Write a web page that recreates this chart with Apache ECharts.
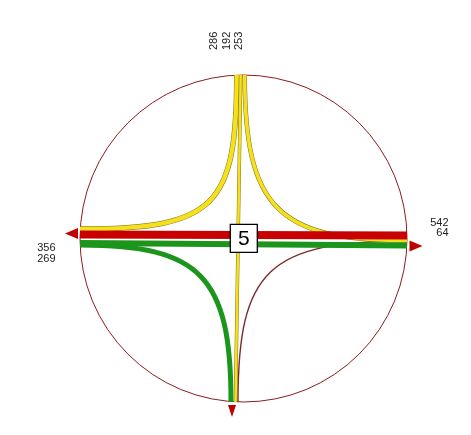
<!DOCTYPE html>
<html><head><meta charset="utf-8">
<script src="https://cdn.jsdelivr.net/npm/echarts@6/dist/echarts.min.js"></script>
<style>html,body{margin:0;padding:0;background:#fff}#c{width:471px;height:435px}</style>
</head><body><div id="c"></div>
<script>
// ---- data ----
const northVolumes = [286, 192, 253];
const westVolumes = [356, 269];
const eastVolumes = [542, 64];
const centerCount = [5];
const movements = ['S-E', 'N-E', 'N-W', 'N-S', 'W-S', 'W-E (green)', 'W-E (red)'];

// ---- geometry / styles (chart coordinate units) ----
const CX = 243.5, CY = 238.5, R = 163.5;
const flowGeom = {
  'S-E':         {from: [238, 402],   to: [407, 241],   k: 0.82, color: '#7b2a2a', width: 1.4},
  'N-E':         {from: [244.7, 75],  to: [407, 240.5], k: 0.80, color: '#f5e01e', width: 3.6, edge: '#7d6c18'},
  'N-W':         {from: [236.7, 75],  to: [80, 229],    k: 0.86, color: '#f5e01e', width: 4.4, edge: '#7d6c18'},
  'N-S':         {from: [240.7, 75],  to: [235.5, 402], k: 0,    color: '#f5e01e', width: 2.6, edge: '#7d6c18'},
  'W-S':         {from: [80, 245],    to: [231, 402],   k: 0.80, color: '#1c951c', width: 5},
  'W-E (green)': {from: [80, 243],    to: [407, 245.5], k: 0,    color: '#1c951c', width: 6},
  'W-E (red)':   {from: [80, 234.5],  to: [407, 235.5], k: 0,    color: '#c80000', width: 7.8}
};
const ARROW = '#c00000';
const FONT = '11px "Liberation Sans", Arial, sans-serif';

const chart = echarts.init(document.getElementById('c'), null, {renderer: 'canvas'});

function flowShape(api, g) {
  const p0 = api.coord(g.from), p3 = api.coord(g.to);
  if (!g.k) return {type: 'line', shape: {x1: p0[0], y1: p0[1], x2: p3[0], y2: p3[1]}};
  const vertFrom = Math.abs(g.from[1] - CY) > Math.abs(g.from[0] - CX);
  const corner = api.coord(vertFrom ? [g.from[0], g.to[1]] : [g.to[0], g.from[1]]);
  const c1 = [p0[0] + g.k * (corner[0] - p0[0]), p0[1] + g.k * (corner[1] - p0[1])];
  const c2 = [p3[0] + g.k * (corner[0] - p3[0]), p3[1] + g.k * (corner[1] - p3[1])];
  return {type: 'bezierCurve', shape: {x1: p0[0], y1: p0[1], x2: p3[0], y2: p3[1],
    cpx1: c1[0], cpy1: c1[1], cpx2: c2[0], cpy2: c2[1]}};
}

const option = {
  animation: false,
  grid: {left: 0, top: 0, width: 471, height: 435},
  xAxis: {type: 'value', min: 0, max: 471, show: false},
  yAxis: {type: 'value', min: 0, max: 435, inverse: true, show: false},
  series: [
    { // outer circle
      type: 'custom', silent: true, data: [[CX, CY]],
      renderItem: (p, api) => {
        const c = api.coord([CX, CY]), e = api.coord([CX + R, CY]);
        return {type: 'circle', shape: {cx: c[0], cy: c[1], r: e[0] - c[0]},
          style: {fill: 'none', stroke: '#8a1c1c', lineWidth: 1}};
      }
    },
    { // movements
      type: 'custom', silent: true, data: movements.map((m, i) => [i]),
      renderItem: (p, api) => {
        const g = flowGeom[movements[p.dataIndex]];
        const children = [];
        if (g.edge) {
          const s = flowShape(api, g);
          s.style = {fill: 'none', stroke: g.edge, lineWidth: g.width + 0.9};
          children.push(s);
        }
        const s2 = flowShape(api, g);
        s2.style = {fill: 'none', stroke: g.color, lineWidth: g.width, lineCap: 'butt'};
        children.push(s2);
        return {type: 'group', children};
      }
    },
    { // exit arrows
      type: 'custom', silent: true, data: [['W'], ['E'], ['S']],
      renderItem: (p, api) => {
        const tri = [
          [[65, 233.5], [78, 228], [78, 239]],
          [[422.5, 246], [409.5, 240.5], [409.5, 251.5]],
          [[232, 417], [228, 405], [236, 405]]
        ][p.dataIndex].map(pt => api.coord(pt));
        return {type: 'polygon', shape: {points: tri}, style: {fill: ARROW}};
      }
    },
    { // north labels (rotated)
      type: 'custom', silent: true, data: northVolumes.map((v, i) => [i, v]),
      renderItem: (p, api) => {
        const xs = [214, 226.5, 239];
        const pt = api.coord([xs[p.dataIndex], 50]);
        return {type: 'text', x: pt[0], y: pt[1], rotation: Math.PI / 2,
          style: {text: String(api.value(1)), fill: '#222', font: FONT,
            align: 'left', verticalAlign: 'middle'}};
      }
    },
    { // west labels
      type: 'custom', silent: true, data: westVolumes.map((v, i) => [i, v]),
      renderItem: (p, api) => {
        const pt = api.coord([55.5, 248 + p.dataIndex * 10.6]);
        return {type: 'text', x: pt[0], y: pt[1],
          style: {text: String(api.value(1)), fill: '#222', font: FONT,
            align: 'right', verticalAlign: 'middle'}};
      }
    },
    { // east labels
      type: 'custom', silent: true, data: eastVolumes.map((v, i) => [i, v]),
      renderItem: (p, api) => {
        const pt = api.coord([448.5, 222.7 + p.dataIndex * 10.6]);
        return {type: 'text', x: pt[0], y: pt[1],
          style: {text: String(api.value(1)), fill: '#222', font: FONT,
            align: 'right', verticalAlign: 'middle'}};
      }
    },
    { // centre box
      type: 'custom', silent: true, data: centerCount.map(v => [v]),
      renderItem: (p, api) => {
        const a = api.coord([230.3, 224.3]), b = api.coord([257.3, 252.3]);
        return {type: 'group', children: [
          {type: 'rect', shape: {x: a[0], y: a[1], width: b[0] - a[0], height: b[1] - a[1]},
            style: {fill: '#fff', stroke: '#000', lineWidth: 1.3}},
          {type: 'text', x: (a[0] + b[0]) / 2, y: (a[1] + b[1]) / 2 + 0.5,
            style: {text: String(api.value(0)), fill: '#000',
              font: '21px "Liberation Sans", Arial, sans-serif',
              align: 'center', verticalAlign: 'middle'}}
        ]};
      }
    }
  ]
};
chart.setOption(option);
</script></body></html>
